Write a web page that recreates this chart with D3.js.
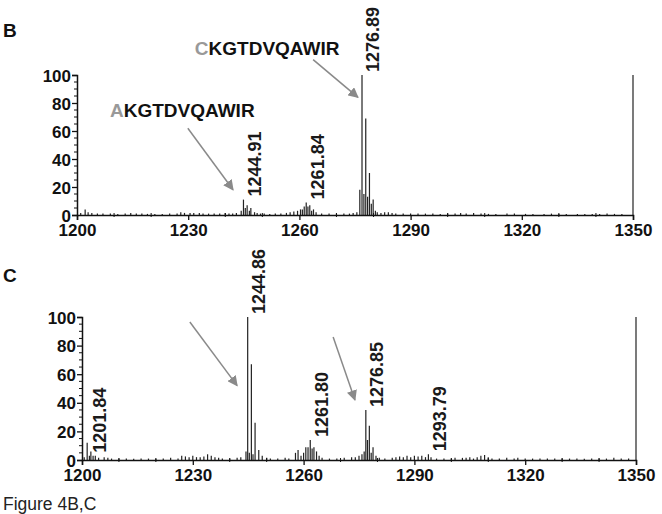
<!DOCTYPE html>
<html>
<head>
<meta charset="utf-8">
<script src="https://cdn.jsdelivr.net/npm/d3@7"></script>
<style>
  body { margin: 0; background: #fff; }
  text { font-family: "Liberation Sans", Arial, sans-serif; }
</style>
</head>
<body>
<div id="chart"></div>
<script>
// MALDI spectra, Figure 4B,C

const width = 662, height = 514;

const xTicks = [1200, 1230, 1260, 1290, 1320, 1350];
const yTicks = [0, 20, 40, 60, 80, 100];

// panel B peaks (m/z, relative intensity %)
const mzB = [1201, 1202.2, 1203, 1204, 1205.5, 1207, 1209, 1211, 1213, 1214.5, 1216, 1217.5, 1219, 1221, 1223,
  1225, 1227, 1228, 1229, 1230.5, 1231.5, 1233, 1234, 1235.5, 1237, 1238.5, 1240, 1241, 1242, 1243,
  1244.3, 1244.91, 1245.4, 1245.9, 1246.5, 1246.9, 1247.9, 1248.6, 1249.5, 1250.5, 1252, 1253.5, 1255,
  1256.5, 1257.5, 1258.5, 1259.5, 1260.3, 1260.8, 1261.3, 1261.84, 1262.3, 1262.8, 1263.3, 1263.8, 1264.5,
  1266, 1268, 1270, 1272, 1273.5, 1274.5, 1275.5, 1276.3, 1276.89, 1277.4, 1277.9, 1278.4, 1278.9, 1279.4,
  1279.9, 1280.5, 1281, 1282, 1283, 1284, 1285, 1286, 1288, 1290, 1292, 1294, 1296, 1298, 1300, 1302,
  1303.5, 1305, 1307, 1309, 1311, 1313, 1316, 1318, 1321, 1323, 1326, 1328, 1330, 1332, 1335, 1337, 1339,
  1341, 1343, 1345, 1347, 1350];
const intB = [1.5, 4, 2, 1.5, 1, 1, 1, 0.8, 1, 1.5, 1, 1, 0.8, 0.8, 0.8,
  1, 1, 2, 1.5, 1.5, 1.5, 1.5, 1, 1, 1, 1, 1.5, 1, 1, 1.5,
  3, 11, 5, 7, 3, 5, 2, 1.5, 1, 1, 0.8, 1, 1,
  1.5, 2, 2.5, 3, 4, 4, 6, 9, 6, 7, 3, 4, 2,
  1, 1, 1, 1, 1, 1.5, 2, 18, 100, 15, 69, 13, 30, 8,
  11, 3, 2, 1.5, 2, 2, 1.5, 1, 1, 1, 1, 1, 1, 0.8, 1, 1,
  1.5, 1, 1.5, 1, 0.8, 0.8, 1, 1, 0.8, 0.8, 0.8, 1, 0.8, 0.8, 0.8, 0.8, 0.8,
  0.8, 1, 0.8, 0.8, 100];

// panel C peaks
const mzC = [1200.6, 1201.4, 1202, 1202.4, 1203, 1203.6, 1204.5, 1206, 1207, 1208, 1210, 1212, 1214, 1216, 1218,
  1220, 1222, 1224, 1226, 1227, 1228, 1229, 1230, 1231, 1232, 1233, 1234, 1235, 1236, 1237, 1238, 1240,
  1242, 1243, 1244.4, 1244.86, 1245.3, 1245.86, 1246.3, 1246.86, 1247.86, 1248.8, 1250, 1251, 1253, 1255,
  1256, 1257.8, 1258.5, 1259.3, 1260, 1260.6, 1261.2, 1261.8, 1262.3, 1262.8, 1263.5, 1264.2, 1265, 1267,
  1269, 1271, 1273, 1274, 1275, 1275.8, 1276.4, 1276.85, 1277.3, 1277.8, 1278.3, 1278.8, 1279.6, 1280.5,
  1282, 1284, 1285, 1286, 1287, 1288, 1289, 1290, 1291, 1292, 1293, 1293.79, 1294.5, 1296, 1298, 1300,
  1301, 1303, 1304, 1305, 1306, 1307, 1308, 1309, 1310, 1311, 1313, 1315, 1317, 1318, 1320, 1322, 1324,
  1326, 1328, 1330, 1332, 1334, 1336, 1338, 1340, 1342, 1344, 1346, 1348, 1350];
const intC = [2, 12, 3, 6, 3, 3, 1.5, 2, 1.5, 1, 1, 1, 0.8, 1, 1,
  0.8, 1, 1.5, 1, 3, 2.5, 2, 3, 2, 2, 2.5, 4, 3, 2, 1.5, 1, 1,
  1.5, 2, 6, 100, 5, 67, 4, 26, 7, 3, 1.5, 1, 1, 1.5,
  1, 5, 7, 3, 5, 9, 9, 14, 8, 9, 6, 3, 1.5, 1,
  1, 1.5, 2, 2, 3, 4, 6, 35, 14, 24, 5, 9, 3, 1.5,
  1, 1.5, 2, 2.5, 2, 3, 2, 3, 2.5, 3, 2, 4, 2, 1, 1, 1,
  1.5, 1.5, 1.5, 2, 1, 2, 3, 3.5, 2, 1, 1, 1.5, 1, 1.5, 1, 1, 1,
  1, 1, 1, 1, 1, 0.8, 1, 1, 1, 1.5, 1, 1, 100];

// peak labels
const labelsB = ["1244.91", "1261.84", "1276.89"];
const labelsC = ["1201.84", "1244.86", "1261.80", "1276.85", "1293.79"];

// annotations: [mz, intensity] for text anchor / arrow start / arrow tip
const peptideB = [
  { first: "A", rest: "KGTDVQAWIR", at: [1208.9, 70], arrow: [[1229.9, 62], [1242.1, 18]] },
  { first: "C", rest: "KGTDVQAWIR", at: [1231.8, 114], arrow: [[1263.7, 111], [1275.8, 84]] }
];
const arrowsC = [
  [[1229.2, 96.5], [1242.0, 52]],
  [[1268.0, 86], [1273.9, 42]]
];

const svg = d3.select("#chart")
  .append("svg")
  .attr("width", width)
  .attr("height", height)
  .style("background", "#fff");

svg.append("defs").append("marker")
  .attr("id", "head")
  .attr("viewBox", "0 0 10 10")
  .attr("refX", 9).attr("refY", 5)
  .attr("markerWidth", 7).attr("markerHeight", 7)
  .attr("markerUnits", "strokeWidth")
  .attr("orient", "auto")
  .append("path")
  .attr("d", "M0,0 L10,5 L0,10 Z")
  .attr("fill", "#8a8a8a");

function panel(opt) {
  const x = d3.scaleLinear().domain([1200, 1350]).range([opt.left, opt.right]);
  const y = d3.scaleLinear().domain([0, 100]).range([opt.bottom, opt.top]);
  const g = svg.append("g");

  // peaks
  g.append("g").selectAll("line")
    .data(opt.mz.map((m, i) => [m, opt.int[i]]))
    .join("line")
    .attr("x1", d => x(d[0])).attr("x2", d => x(d[0]))
    .attr("y1", y(0)).attr("y2", d => y(d[1]))
    .attr("stroke", "#222")
    .attr("stroke-width", 1.2);

  // x axis
  const xa = g.append("g")
    .attr("transform", `translate(0,${y(0)})`)
    .call(d3.axisBottom(x).tickValues(xTicks).tickSize(5).tickPadding(4).tickFormat(d3.format("d")));
  xa.append("g").selectAll("line")
    .data(d3.range(1210, 1350, 10).filter(v => !xTicks.includes(v)))
    .join("line")
    .attr("x1", d => x(d)).attr("x2", d => x(d))
    .attr("y1", -2).attr("y2", 2)
    .attr("stroke", "#111");

  // y axis
  const ya = g.append("g")
    .attr("transform", `translate(${x(1200)},0)`)
    .call(d3.axisLeft(y).tickValues(yTicks).tickSize(5).tickPadding(1));
  ya.append("g").selectAll("line")
    .data(d3.range(5, 100, 5).filter(v => v % 20 !== 0))
    .join("line")
    .attr("x1", -3).attr("x2", 0)
    .attr("y1", d => y(d)).attr("y2", d => y(d))
    .attr("stroke", "#111");

  [xa, ya].forEach(a => {
    a.select(".domain").attr("stroke", "#111").attr("stroke-width", 1.5);
    a.selectAll(".tick line").attr("stroke", "#111").attr("stroke-width", 1.3);
    a.selectAll("text")
      .attr("font-family", "'Liberation Sans', Arial, sans-serif")
      .attr("font-size", 17)
      .attr("font-weight", "bold")
      .attr("fill", "#111");
  });
  ya.selectAll(".tick text").attr("dy", "0.36em");

  // rotated peak labels
  g.append("g").selectAll("text")
    .data(opt.labels)
    .join("text")
    .attr("transform", d => {
      const m = +d;
      const i = d3.minIndex(opt.mz, v => Math.abs(v - m));
      return `translate(${x(m) + 11},${y(opt.int[i]) - 3}) rotate(-90)`;
    })
    .attr("dy", "0.35em")
    .attr("font-size", 18)
    .attr("font-weight", "bold")
    .attr("fill", "#1a1a1a")
    .text(d => d);

  // arrows
  g.append("g").selectAll("line")
    .data(opt.arrows)
    .join("line")
    .attr("x1", d => x(d[0][0])).attr("y1", d => y(d[0][1]))
    .attr("x2", d => x(d[1][0])).attr("y2", d => y(d[1][1]))
    .attr("stroke", "#8a8a8a")
    .attr("stroke-width", 1.5)
    .attr("marker-end", "url(#head)");

  // peptide names
  const t = g.append("g").selectAll("text")
    .data(opt.peptides)
    .join("text")
    .attr("x", d => x(d.at[0]))
    .attr("y", d => y(d.at[1]))
    .attr("font-size", 19)
    .attr("font-weight", "bold");
  t.append("tspan").attr("fill", "#999").text(d => d.first);
  t.append("tspan").attr("fill", "#111").text(d => d.rest);

  // panel letter
  svg.append("text")
    .attr("x", 3).attr("y", opt.letterY)
    .attr("font-size", 19)
    .attr("font-weight", "bold")
    .attr("fill", "#111")
    .text(opt.letter);
}

panel({ left: 77, right: 633, top: 75, bottom: 215, mz: mzB, int: intB, labels: labelsB,
  arrows: peptideB.map(p => p.arrow), peptides: peptideB, letter: "B", letterY: 37 });
panel({ left: 82, right: 636, top: 317, bottom: 460, mz: mzC, int: intC, labels: labelsC,
  arrows: arrowsC, peptides: [], letter: "C", letterY: 282 });

svg.append("text")
  .attr("x", 3).attr("y", 510)
  .attr("font-size", 17.5)
  .attr("fill", "#222")
  .text("Figure 4B,C");
</script>
</body>
</html>
